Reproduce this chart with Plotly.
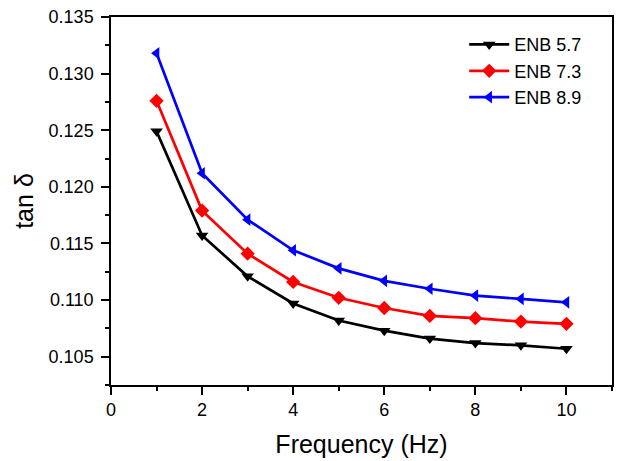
import plotly.graph_objects as go

freq = [1, 2, 3, 4, 5, 6, 7, 8, 9, 10]
enb57 = [0.1249, 0.1157, 0.1121, 0.1097, 0.1082, 0.1073, 0.1066, 0.1062, 0.1060, 0.1057]
enb73 = [0.1276, 0.1179, 0.1141, 0.1116, 0.1102, 0.1093, 0.1086, 0.1084, 0.1081, 0.1079]
enb89 = [0.1318, 0.1212, 0.1171, 0.1144, 0.1128, 0.1117, 0.1110, 0.1104, 0.1101, 0.1098]

series = [
    ("ENB 5.7", enb57, "black", "triangle-down"),
    ("ENB 7.3", enb73, "red", "diamond"),
    ("ENB 8.9", enb89, "blue", "triangle-left"),
]

fig = go.Figure()
for name, vals, col, sym in series:
    fig.add_trace(go.Scatter(
        x=freq, y=vals, name=name, mode="lines+markers",
        line=dict(color=col, width=2.7),
        marker=dict(symbol=sym, size=11, color=col),
    ))

font = "Liberation Sans, Arial, sans-serif"
fig.update_layout(
    width=621, height=461,
    margin=dict(l=111, r=7, t=15, b=74),
    paper_bgcolor="white", plot_bgcolor="white",
    font=dict(family=font, color="black"),
    showlegend=True,
    legend=dict(x=0.705, y=0.975, xanchor="left", yanchor="top",
                bgcolor="rgba(0,0,0,0)", font=dict(size=18, family=font),
                itemwidth=40, tracegroupgap=0),
    xaxis=dict(
        range=[0, 11], tickmode="linear", tick0=0, dtick=2,
        ticks="outside", ticklen=8, tickwidth=1.5, tickcolor="black",
        minor=dict(dtick=1, ticks="outside", ticklen=4, tickwidth=1.5, tickcolor="black"),
        showline=True, linecolor="black", linewidth=1.5, mirror=True,
        showgrid=False, zeroline=False,
        tickfont=dict(size=18),
        title=dict(text="Frequency (Hz)", font=dict(size=25), standoff=16),
    ),
    yaxis=dict(
        range=[0.1025, 0.135], tickmode="linear", tick0=0.105, dtick=0.005,
        tickformat=".3f",
        ticks="outside", ticklen=8, tickwidth=1.5, tickcolor="black",
        minor=dict(dtick=0.0025, ticks="outside", ticklen=4, tickwidth=1.5, tickcolor="black"),
        showline=True, linecolor="black", linewidth=1.5, mirror=True,
        showgrid=False, zeroline=False,
        tickfont=dict(size=18), ticklabelstandoff=4,
        title=dict(text="tan δ", font=dict(size=25), standoff=8),
    ),
)

fig.write_html("out.html")
